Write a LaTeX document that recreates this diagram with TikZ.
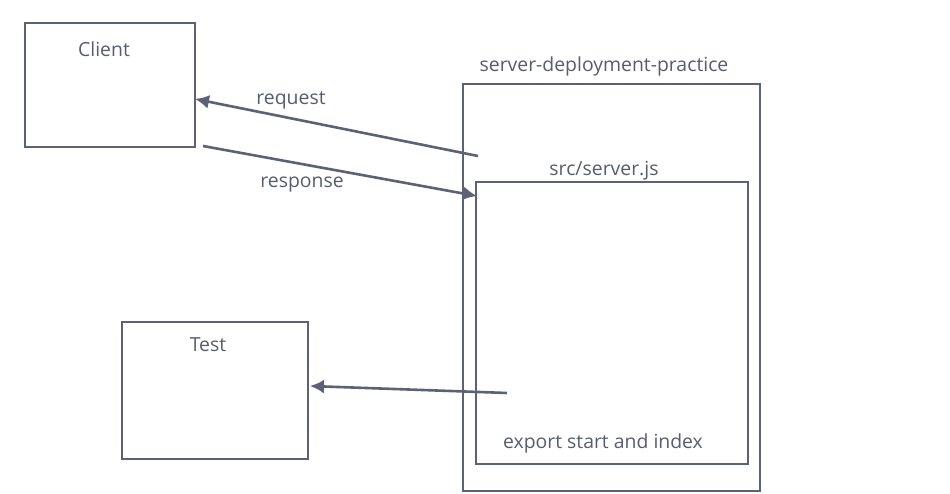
\documentclass[tikz,border=0pt]{standalone}
\usepackage{fontspec}
\setmainfont{Open Sans}
\usetikzlibrary{arrows.meta}
\definecolor{slate}{HTML}{5B6275}
\definecolor{inkgray}{HTML}{565D6E}
\tikzset{
  box/.style={draw=slate, line width=2.2pt, inner sep=0pt},
  txt/.style={text=inkgray, font=\fontsize{19.4}{23}\selectfont, inner sep=0pt},
  link/.style={draw=slate, line width=2.6pt, -{Latex[length=14pt,width=14pt]}}
}

\begin{document}
\begin{tikzpicture}[x=1pt,y=-1pt]
  \useasboundingbox (0,0) rectangle (950,494);

    \node[box, minimum width=170pt, minimum height=124pt] (client) at (110,85) {};
    \node[txt] (clientlbl) at (104,49) {Client};
    \node[box, minimum width=186pt, minimum height=137pt] (test) at (215,390.5) {};
    \node[txt] (testlbl) at (208,345) {Test};

    \node[box, minimum width=297pt, minimum height=407pt] (outer) at (611.5,287.5) {};
    \node[txt] (outerlbl) at (604,66) {server-deployment-practice};
    \node[box, minimum width=272pt, minimum height=282pt] (inner) at (612,323) {};
    \node[txt] (innerlbl) at (604,171) {src/server.js};
    \node[txt] (exportlbl) at (603,443) {export start and index};

    \coordinate (reqstart) at (478,156);
    \coordinate (reqend) at (195,99);
    \coordinate (resstart) at (203,146);
    \coordinate (resend) at (477,196);
    \coordinate (teststart) at (507,393);
    \coordinate (testend) at (310,386);

    \draw[link] (reqstart) -- (reqend);
    \node[txt] (reqlbl) at (291,100) {request};
    \draw[link] (resstart) -- (resend);
    \node[txt] (reslbl) at (302,185) {response};
    \draw[link] (teststart) -- (testend);

\end{tikzpicture}
\end{document}
